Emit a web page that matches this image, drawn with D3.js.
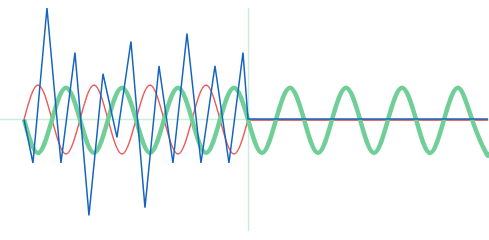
<!DOCTYPE html>
<html>
<head>
<meta charset="utf-8">
<script src="https://cdn.jsdelivr.net/npm/d3@7"></script>
<style>
  html, body { margin: 0; padding: 0; background: #fff; }
  svg { display: block; }
</style>
</head>
<body>
<svg id="chart"></svg>
<script>
// time in quarter periods of the carrier wave
var tEnd = 33.14;
var tCut = 16;

// red wave (first 4 periods), sampled at quarter periods
var redT = d3.range(0, 17);
var redV = [0, 0.31, 0, -0.31, 0, 0.31, 0, -0.31, 0, 0.31, 0, -0.31, 0, 0.31, 0, -0.31, 0];
var redTailV = -0.004;

// green carrier, sampled at quarter periods, plus the end point
var greenT = d3.range(0, 34).concat([tEnd]);
var greenV = [0, -0.30, 0, 0.285, 0, -0.30, 0, 0.285, 0, -0.30, 0, 0.285,
              0, -0.30, 0, 0.285, 0, -0.30, 0, 0.285, 0, -0.30, 0, 0.285,
              0, -0.30, 0, 0.285, 0, -0.30, 0, 0.285, 0, -0.30, -0.29];

// blue samples
var blueT = [0, 0.64, 1.64, 2.64, 3.64, 4.64, 5.64, 6.64, 7.64, 8.64,
             9.64, 10.64, 11.64, 12.64, 13.64, 14.64, 15.64, 16, tEnd];
var blueV = [0, -0.39, 1.0, -0.39, 0.6, -0.86, 0.41, -0.16, 0.7, -0.79,
             0.48, -0.39, 0.77, -0.39, 0.48, -0.39, 0.6, 0.004, 0.004];

var width = 489, height = 240;

var svg = d3.select("#chart")
  .attr("width", width)
  .attr("height", height);

var x = d3.scaleLinear().domain([0, tEnd]).range([24, 488]);
var y = d3.scaleLinear().domain([-1, 1]).range([231, 8]);

var axisColor = "#c9efdb";

// zero line across the whole width
svg.append("line")
  .attr("x1", 0).attr("x2", width)
  .attr("y1", y(0)).attr("y2", y(0))
  .attr("stroke", axisColor)
  .attr("stroke-width", 1.5);

// marker at the end of the signal
svg.append("line")
  .attr("x1", x(tCut) + 0.5).attr("x2", x(tCut) + 0.5)
  .attr("y1", y(1)).attr("y2", y(-1))
  .attr("stroke", axisColor)
  .attr("stroke-width", 1.5);

var smooth = d3.line()
  .x(function(d) { return x(d[0]); })
  .y(function(d) { return y(d[1]); })
  .curve(d3.curveNatural);

var straight = d3.line()
  .x(function(d) { return x(d[0]); })
  .y(function(d) { return y(d[1]); });

var redPts = redT.map(function(t, i) { return [t, redV[i]]; });
svg.append("path")
  .attr("d", smooth(redPts))
  .attr("fill", "none")
  .attr("stroke", "#ec5a5a")
  .attr("stroke-width", 1.4);
svg.append("path")
  .attr("d", straight([[tCut, redTailV], [tEnd, redTailV]]))
  .attr("fill", "none")
  .attr("stroke", "#e53935")
  .attr("stroke-width", 1.4);

var greenPts = greenT.map(function(t, i) { return [t, greenV[i]]; });
svg.append("path")
  .attr("d", smooth(greenPts))
  .attr("fill", "none")
  .attr("stroke", "#6fcf97")
  .attr("stroke-width", 4.5);

var bluePts = blueT.map(function(t, i) { return [t, blueV[i]]; });
svg.append("path")
  .attr("d", straight(bluePts))
  .attr("fill", "none")
  .attr("stroke", "#1565c0")
  .attr("stroke-width", 1.5)
  .attr("stroke-linejoin", "miter");
</script>
</body>
</html>
